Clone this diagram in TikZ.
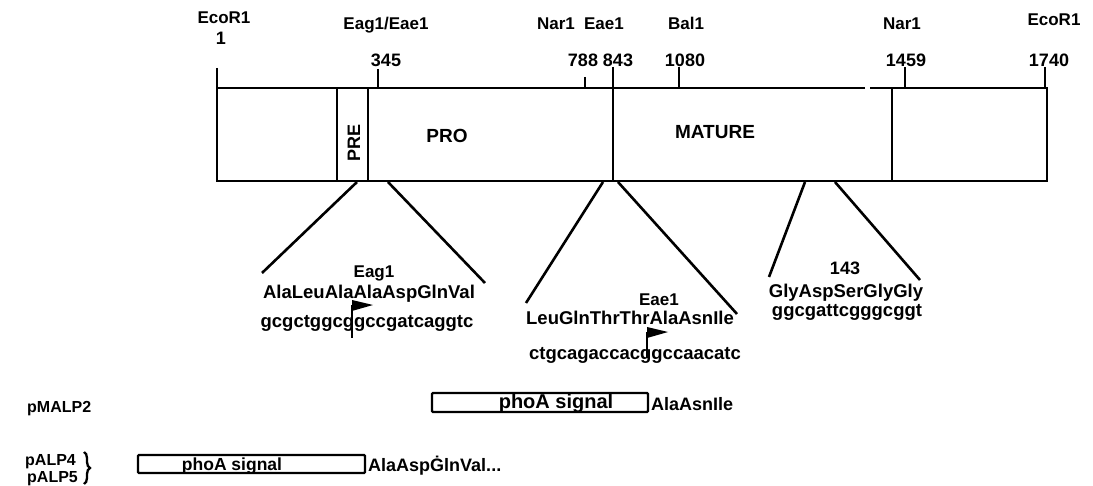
\documentclass[tikz,border=0pt]{standalone}
\usepackage{fontspec}
\setmainfont{Liberation Sans}
\usetikzlibrary{decorations.pathreplacing}

\tikzset{
  mapline/.style={line width=2.3pt},
  tickline/.style={line width=2.2pt},
  fanline/.style={line width=2.6pt},
  sitelabel/.style={font=\bfseries\fontsize{17}{17}\selectfont, anchor=base, inner sep=0pt},
  poslabel/.style={font=\bfseries\fontsize{18}{18}\selectfont, anchor=base, inner sep=0pt},
  regionlabel/.style={font=\bfseries\fontsize{19}{19}\selectfont, anchor=base, inner sep=0pt},
  seqtext/.style={font=\bfseries\fontsize{18.5}{18.5}\selectfont, anchor=base, inner sep=0pt},
  plasmid/.style={font=\bfseries\fontsize{16}{16}\selectfont, anchor=base west, inner sep=0pt},
  fusion/.style={font=\bfseries\fontsize{18}{18}\selectfont, anchor=base west, inner sep=0pt},
  sigbox/.style={line width=2.2pt, rounded corners=1pt},
  cutflag/.style={line width=1.8pt},
}

\begin{document}
\begin{tikzpicture}[x=1pt, y=-1pt]
\useasboundingbox (0,0) rectangle (1093,486);

% ---------- restriction map ----------
\coordinate (bl) at (217,181);
\coordinate (br) at (1047,181);
\coordinate (tl) at (217,88);
\coordinate (tr) at (1047,88);
\coordinate (gapL) at (865,88);
\coordinate (gapR) at (870,88);

% gene box (top edge broken near 1459)
\draw[mapline] (gapL) -- (tl) -- (bl) -- (br) -- (tr) -- (gapR);

% region dividers
\coordinate (preL) at (337,88);
\coordinate (preR) at (368,88);
\coordinate (proM) at (613,88);
\coordinate (matR) at (892,88);
\draw[mapline] (preL) -- (preL |- bl);
\draw[mapline] (preR) -- (preR |- bl);
\draw[mapline] (proM) -- (proM |- bl);
\draw[mapline] (matR) -- (matR |- bl);

% region labels
\node[regionlabel, font=\bfseries\fontsize{18}{18}\selectfont, rotate=90, anchor=center] (pre) at (354,143) {PRE};
\node[regionlabel] (pro) at (447,143) {PRO};
\node[regionlabel] (mature) at (715,139) {MATURE};

% site ticks
\coordinate (t1) at (217,68);
\coordinate (t345) at (378,69);
\coordinate (t788) at (585,77);
\coordinate (t843) at (613,67);
\coordinate (t1080) at (679,67);
\coordinate (t1459) at (905,67);
\coordinate (t1740) at (1045,67);
\foreach \t in {t1,t345,t788,t843,t1080,t1459,t1740}
  \draw[tickline] (\t) -- (\t |- tl);

% site positions
\node[poslabel] (n1) at (221,45) {1};
\node[poslabel] (n345) at (386,67) {345};
\node[poslabel] (n788) at (583,67) {788};
\node[poslabel] (n843) at (618,67) {843};
\node[poslabel] (n1080) at (685,67) {1080};
\node[poslabel] (n1459) at (906,67) {1459};
\node[poslabel] (n1740) at (1049,67) {1740};

% enzyme names
\node[sitelabel] (ecoL) at (224,24) {EcoR1};
\node[sitelabel] (eag) at (386,30) {Eag1/Eae1};
\node[sitelabel] (narL) at (556,30) {Nar1};
\node[sitelabel] (eae) at (604,30) {Eae1};
\node[sitelabel] (bal) at (686,30) {Bal1};
\node[sitelabel] (narR) at (902,30) {Nar1};
\node[sitelabel] (ecoR) at (1054,26) {EcoR1};

% ---------- expanded junctions ----------
% PRE/PRO junction
\coordinate (fa1) at (357,182);
\coordinate (fa2) at (388,182);
\coordinate (ea1) at (262,273);
\coordinate (ea2) at (485,283);
\draw[fanline] (fa1) -- (ea1);
\draw[fanline] (fa2) -- (ea2);
\node[sitelabel] (eagsite) at (374,278) {Eag1};
\node[seqtext] (aa1) at (369,299) {AlaLeuAlaAlaAspGlnVal};
\node[seqtext] (nt1) at (367,328) {gcgctggcggccgatcaggtc};
\coordinate (cut1) at (352,338);
\coordinate (flag1) at (352,305);
\draw[cutflag] (cut1) -- (flag1);
\fill (flag1) ++(0,-5) -- ++(21,5) -- ++(-21,6) -- cycle;

% PRO/MATURE junction
\coordinate (fb1) at (603,182);
\coordinate (fb2) at (618,182);
\coordinate (eb1) at (526,303);
\coordinate (eb2) at (737,314);
\draw[fanline] (fb1) -- (eb1);
\draw[fanline] (fb2) -- (eb2);
\node[sitelabel] (eaesite) at (659,306) {Eae1};
\node[seqtext] (aa2) at (630,325) {LeuGlnThrThrAlaAsnIle};
\node[seqtext] (nt2) at (635,360) {ctgcagaccacggccaacatc};
\coordinate (cut2) at (647,358);
\coordinate (flag2) at (647,332);
\draw[cutflag] (cut2) -- (flag2);
\fill (flag2) ++(0,-5) -- ++(21,5) -- ++(-21,6) -- cycle;

% residue 143
\coordinate (fc1) at (805,182);
\coordinate (fc2) at (835,182);
\coordinate (ec1) at (769,277);
\coordinate (ec2) at (920,280);
\draw[fanline] (fc1) -- (ec1);
\draw[fanline] (fc2) -- (ec2);
\node[poslabel] (r143) at (845,275) {143};
\node[seqtext] (aa3) at (846,298) {GlyAspSerGlyGly};
\node[seqtext] (nt3) at (847,317) {ggcgattcgggcggt};

% ---------- fusion constructs ----------
\node[plasmid] (pmalp2) at (27,413) {pMALP2};
\node[plasmid] (palp4) at (25,465) {pALP4};
\node[plasmid] (palp5) at (27,482) {pALP5};
\coordinate (brTop) at (84,452);
\coordinate (brBot) at (84,484);
\draw[line width=2.3pt, decorate, decoration={brace, amplitude=6pt}] (brTop) -- (brBot);

% pMALP2 signal box
\draw[sigbox] (432,393) rectangle (648,412);
\node[font=\bfseries\fontsize{20}{20}\selectfont, anchor=base, inner sep=0pt] (sig1) at (556,409) {phoA signal};
\node[fusion] (jn1) at (651,410) {AlaAsnIle};

% pALP4/5 signal box
\draw[sigbox] (138,455) rectangle (365,473);
\node[font=\bfseries\fontsize{17.5}{17.5}\selectfont, anchor=base, inner sep=0pt] (sig2) at (232,470) {phoA signal};
\node[fusion] (jn2) at (368,471) {AlaAspĠlnVal...};

\end{tikzpicture}
\end{document}
